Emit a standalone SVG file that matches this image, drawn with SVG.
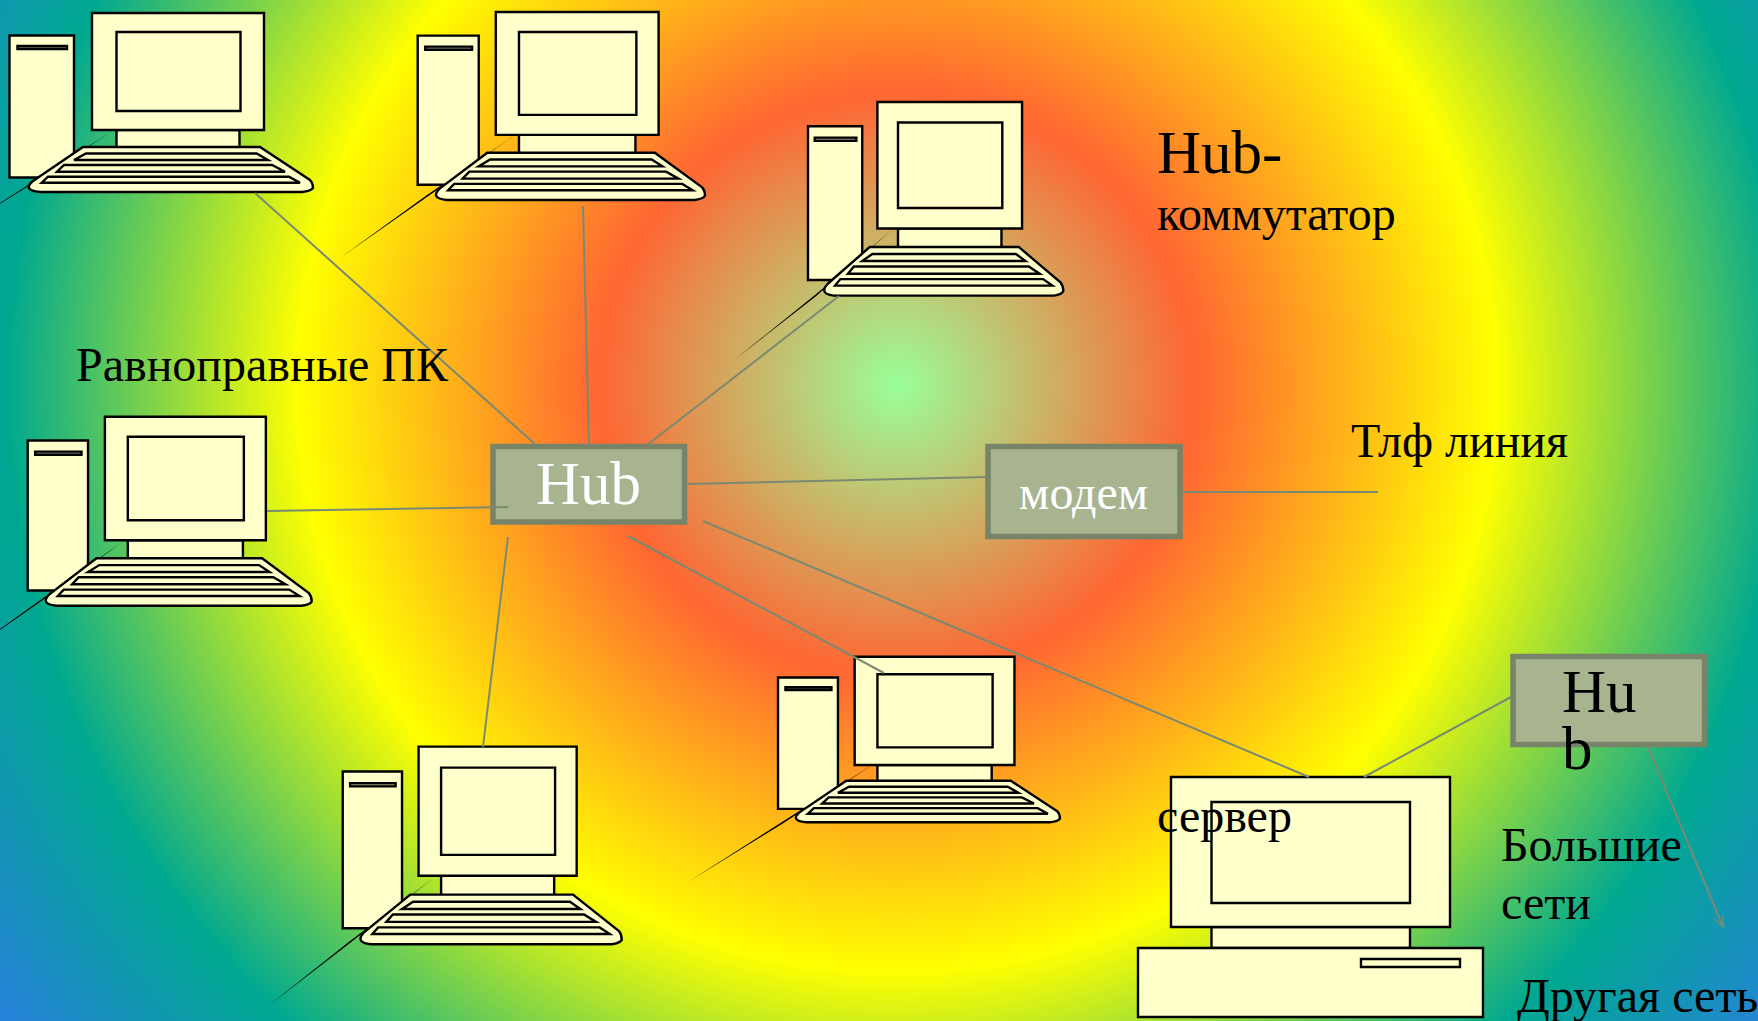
<svg xmlns="http://www.w3.org/2000/svg" xmlns:xlink="http://www.w3.org/1999/xlink" width="1758" height="1021" viewBox="0 0 1758 1021">
<style>
.p{fill:#ffffcc;stroke:#000;stroke-width:2.4;vector-effect:non-scaling-stroke;stroke-linejoin:miter}
.sl{fill:#999977}
.c{fill:#000;stroke:none}
.g{stroke:#7a8a72;stroke-width:2;fill:none}
.box{fill:#a8b490;stroke:#788468;stroke-width:5.5}
text{font-family:"Liberation Serif","Times New Roman",serif;fill:#000}
.w{fill:#fff}
.t{font-size:48px}
.b{font-size:61px}
</style>
<defs>
<radialGradient id="bg" gradientUnits="userSpaceOnUse" cx="0" cy="0" r="1120" gradientTransform="translate(897 385) scale(1 .98)">
<stop offset="0" stop-color="#99ff99"/>
<stop offset=".265" stop-color="#ff6633"/>
<stop offset=".534" stop-color="#ffff00"/>
<stop offset=".795" stop-color="#00a890"/>
<stop offset="1" stop-color="#2a7fe0"/>
</radialGradient>
<marker id="ah" markerUnits="userSpaceOnUse" markerWidth="14" markerHeight="14" refX="11" refY="5" orient="auto"><path d="M0 0L11 5L0 10" fill="none" stroke="#7a8a72" stroke-width="1.6"/></marker>
<g id="pc">
<rect class="p" x="9.5" y="35.5" width="64.5" height="142"/>
<rect class="p sl" x="17.5" y="46" width="49.5" height="3"/>
<rect class="p" x="116.500" y="130" width="123" height="18"/>
<rect class="p" x="92" y="13" width="172" height="117"/>
<rect class="p" x="116.500" y="32" width="124" height="79"/>
<path class="p" d="M83 147H260L310 180Q313 183 313 188Q311 191 302 192H40Q30 191 29 188Q28 185 33 181Z"/>
<path class="p" d="M86 153.5H256.7L268 160H74Z"/>
<path class="p" d="M64 165H272L285 171.7H57Z"/>
<path class="p" d="M48 176.7H289L300 182.7H41.7Z"/>
</g>
</defs>
<rect width="1758" height="1021" fill="url(#bg)"/>
<g id="pc1"><path class="c" d="M112 131L40 177.500L-60 241L40 179Z"/><use xlink:href="#pc" href="#pc"/></g>
<g id="pc2"><path class="c" d="M515 135L427 195L340 258L427 197Z"/><use href="#pc" transform="translate(408.7 -1.65) scale(.9466 1.05)"/></g>
<g id="pc3"><path class="c" d="M893 229L815 295L733 361L815 297Z"/><use href="#pc" transform="translate(800 87.9) scale(.8412 1.082)"/></g>
<g id="pc4"><path class="c" d="M122 542L60 586L-60 672L60 588Z"/><use href="#pc" transform="translate(18.8 403) scale(.9358 1.056)"/></g>
<g id="pc5"><path class="c" d="M435 877L350 941L267 1007L350 943Z"/><use href="#pc" transform="translate(334 732.3) scale(.9193 1.104)"/></g>
<g id="pc6"><path class="c" d="M877 762L782 822L688 882L782 824Z"/><use href="#pc" transform="translate(769.2 644.7) scale(.929 .925)"/></g>
<g id="server">
<rect class="p" x="1211.500" y="927" width="198.500" height="21"/>
<rect class="p" x="1171" y="777" width="279" height="150"/>
<rect class="p" x="1211.500" y="802" width="198.500" height="101"/>
<rect class="p" x="1138" y="948" width="345" height="69"/>
<rect class="p" x="1361" y="959" width="99" height="8"/>
</g>
<g id="hub"><rect class="box" x="493" y="446.500" width="191.500" height="75.500"/><text class="w b" x="536" y="504">Hub</text></g>
<g id="modem"><rect class="box" x="988" y="446.500" width="192" height="90"/><text class="w t" x="1019" y="509">модем</text></g>
<g id="hub2"><rect class="box" x="1513" y="656.500" width="191.500" height="88"/><text class="b" x="1562" y="712">Hu</text><text class="b" x="1562" y="769">b</text></g>
<g id="connectors">
<line class="g" x1="255" y1="193" x2="536" y2="445"/>
<line class="g" x1="583" y1="206" x2="589" y2="445"/>
<line class="g" x1="839" y1="296" x2="647" y2="445"/>
<line class="g" x1="267" y1="511" x2="508" y2="507"/>
<line class="g" x1="508" y1="537" x2="483" y2="747"/>
<line class="g" x1="628" y1="536" x2="884" y2="673"/>
<line class="g" x1="703" y1="521" x2="1309" y2="777"/>
<line class="g" x1="686" y1="484" x2="986" y2="477"/>
<line class="g" x1="1182" y1="492" x2="1378" y2="492"/>
<line class="g" x1="1511" y1="697" x2="1364" y2="777"/>
<line class="g" x1="1648" y1="747" x2="1723" y2="927" stroke-width="1.5" marker-end="url(#ah)"/>
</g>
<g id="labels">
<text class="b" x="1157" y="173">Hub-</text>
<text class="t" x="1157" y="230">коммутатор</text>
<text class="t" x="76" y="381">Равноправные ПК</text>
<text class="t" x="1351" y="457">Тлф линия</text>
<text class="t" x="1157" y="832">сервер</text>
<text class="t" x="1501" y="861">Большие</text>
<text class="t" x="1501" y="919">сети</text>
<text class="t" x="1517" y="1012">Другая сеть</text>
</g>
</svg>
